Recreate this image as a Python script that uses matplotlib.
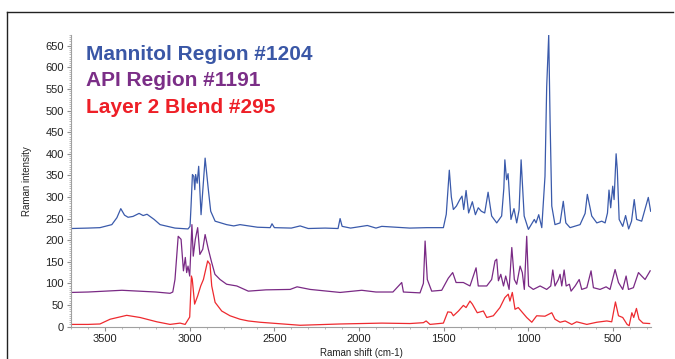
import matplotlib
matplotlib.use("Agg")
import matplotlib.pyplot as plt
from matplotlib.lines import Line2D
from matplotlib.ticker import MultipleLocator

plt.rcParams["font.family"] = ["Liberation Sans", "DejaVu Sans"]

# Mannitol Region #1204 (blue)
mann_x = [3700, 3600, 3530, 3460, 3430, 3407, 3385, 3364, 3335, 3299, 3275, 3252, 3210, 3175,
          3087, 3010, 2998, 2992, 2984, 2976, 2970, 2965, 2956, 2947, 2933, 2909, 2890, 2876,
          2850, 2782, 2740, 2703, 2600, 2525, 2514, 2500, 2400, 2348, 2300, 2200, 2124, 2112,
          2100, 2050, 1951, 1900, 1866, 1700, 1600, 1502, 1485, 1467, 1455, 1443, 1425, 1405,
          1392, 1382, 1368, 1353, 1331, 1313, 1296, 1278, 1258, 1238, 1217, 1187, 1158, 1145,
          1139, 1129, 1120, 1103, 1085, 1069, 1055, 1043, 1025, 1000, 965, 955, 939, 921, 902,
          892, 880, 872, 862, 843, 813, 794, 779, 754, 695, 665, 652, 626, 596, 567, 547, 533,
          524, 514, 502, 494, 482, 475, 464, 443, 426, 408, 391, 375, 361, 331, 292, 278]
mann_y = [227, 228, 229, 236, 252, 273, 258, 253, 255, 262, 257, 260, 248, 236,
          228, 226, 232, 280, 352, 348, 317, 352, 332, 371, 259, 390, 317, 267,
          244, 236, 233, 236, 230, 229, 238, 229, 228, 233, 227, 228, 227, 250,
          232, 228, 234, 228, 232, 228, 229, 229, 260, 362, 300, 271, 279, 294,
          302, 271, 315, 263, 289, 259, 275, 267, 263, 311, 256, 240, 256, 320,
          386, 340, 354, 248, 273, 240, 270, 386, 256, 225, 248, 240, 259, 229, 348,
          555, 675, 479, 279, 236, 240, 290, 240, 229, 236, 262, 306, 256, 240, 244, 240, 263,
          316, 275, 325, 294, 400, 363, 248, 232, 257, 226, 244, 294, 248, 244, 299, 267]

# API Region #1191 (purple)
api_x = [3700, 3600, 3500, 3400, 3300, 3200, 3116, 3100, 3087, 3068, 3051, 3037, 3026, 3018,
         3010, 3000, 2987, 2979, 2967, 2953, 2940, 2923, 2909, 2890, 2870, 2851, 2821, 2782,
         2722, 2654, 2550, 2407, 2366, 2289, 2112, 1984, 1900, 1800, 1748, 1738, 1640, 1620,
         1610, 1597, 1571, 1512, 1473, 1447, 1427, 1384, 1345, 1309, 1296, 1246, 1217, 1197,
         1187, 1177, 1163, 1147, 1134, 1114, 1098, 1083, 1069, 1049, 1036, 1024, 1010, 999,
         971, 931, 892, 868, 856, 843, 823, 813, 803, 789, 777, 758, 748, 724, 700, 685, 655,
         630, 616, 577, 541, 518, 488, 468, 443, 423, 409, 380, 350, 331, 311, 281]
api_y = [79, 80, 82, 84, 82, 80, 77, 80, 109, 209, 202, 129, 160, 125,
         140, 117, 236, 163, 202, 229, 167, 179, 213, 179, 148, 121, 109, 98,
         94, 82, 85, 86, 92, 86, 79, 84, 80, 80, 102, 80, 78, 100,
         198, 109, 82, 84, 112, 125, 102, 102, 94, 136, 94, 94, 109, 152,
         156, 106, 121, 94, 117, 86, 183, 109, 98, 140, 125, 86, 209, 94,
         86, 94, 86, 94, 131, 94, 109, 121, 94, 131, 94, 98, 82, 94, 109, 86, 90,
         129, 90, 86, 92, 86, 132, 102, 86, 117, 86, 90, 125, 117, 109, 129]

# Layer 2 Blend #295 (red)
blend_x = [3700, 3600, 3530, 3470, 3372, 3293, 3194, 3116, 3057, 3027, 3008, 3000, 2990, 2985,
           2971, 2953, 2935, 2919, 2894, 2880, 2870, 2850, 2811, 2762, 2703, 2654, 2585, 2348,
           2112, 1866, 1700, 1620, 1604, 1581, 1502, 1476, 1456, 1443, 1413, 1384, 1368, 1345,
           1331, 1302, 1266, 1246, 1207, 1168, 1139, 1119, 1109, 1095, 1079, 1060, 1034, 1010,
           980, 951, 902, 862, 843, 813, 783, 744, 715, 655, 596, 537, 508, 486, 468, 443, 417,
           405, 389, 378, 362, 347, 323, 284]
blend_y = [5, 5, 6, 17, 26, 21, 11, 5, 8, 5, 17, 22, 117, 110,
           52, 71, 94, 109, 152, 144, 94, 56, 36, 25, 17, 13, 10, 3,
           6, 8, 7, 9, 13, 5, 8, 34, 33, 25, 36, 49, 44, 59,
           52, 32, 36, 21, 25, 44, 67, 75, 59, 79, 40, 44, 32, 21,
           10, 25, 24, 32, 17, 10, 13, 5, 11, 5, 10, 13, 11, 57, 25, 21, 5,
           2, 32, 21, 42, 17, 8, 7]

names = ["Mannitol Region #1204", "API Region #1191", "Layer 2 Blend #295"]
line_colors = ["#3a5aab", "#7a2a85", "#ee2a2f"]
text_colors = ["#3a57a6", "#7b2e87", "#ee1f27"]

xticks = [3500, 3000, 2500, 2000, 1500, 1000, 500]
yticks = list(range(0, 651, 50))

fig = plt.figure(figsize=(6.75, 3.59), dpi=100)
ax = fig.add_axes([71 / 675, 1 - 327 / 359, 580 / 675, 292 / 359])

for xs, ys, c in zip([mann_x, api_x, blend_x], [mann_y, api_y, blend_y], line_colors):
    ax.plot(xs, ys, color=c, lw=0.9)

ax.set_xlim(3701, 276)
ax.set_ylim(-1, 675)
ax.set_xticks(xticks)
ax.set_yticks(yticks)
ax.xaxis.set_minor_locator(MultipleLocator(100))
ax.yaxis.set_minor_locator(MultipleLocator(5))

for s in ["top", "right"]:
    ax.spines[s].set_visible(False)
for s in ["left", "bottom"]:
    ax.spines[s].set_color("#a0a0a0")
    ax.spines[s].set_linewidth(0.8)
ax.tick_params(which="major", length=3, color="#909090", labelsize=8,
               labelcolor="#222222", pad=2)
ax.tick_params(which="minor", length=1.5, color="#b0b0b0")

ax.set_xlabel("Raman shift (cm-1)", fontsize=7, color="#222222", labelpad=3)
ax.set_ylabel("Raman intensity", fontsize=7, color="#222222", labelpad=10)

for i, (n, c) in enumerate(zip(names, text_colors)):
    fig.text(86 / 675, 1 - (60 + 26.5 * i) / 359, n, color=c, fontsize=15,
             fontweight="bold", va="baseline", ha="left")

# outer frame lines
fig.add_artist(Line2D([7 / 675, 673 / 675], [1 - 12 / 359, 1 - 12 / 359],
                      transform=fig.transFigure, color="#222222", lw=1.0))
fig.add_artist(Line2D([7 / 675, 7 / 675], [0, 1 - 12 / 359],
                      transform=fig.transFigure, color="#222222", lw=1.0))

fig.savefig("out.png", dpi=100, facecolor="white")
